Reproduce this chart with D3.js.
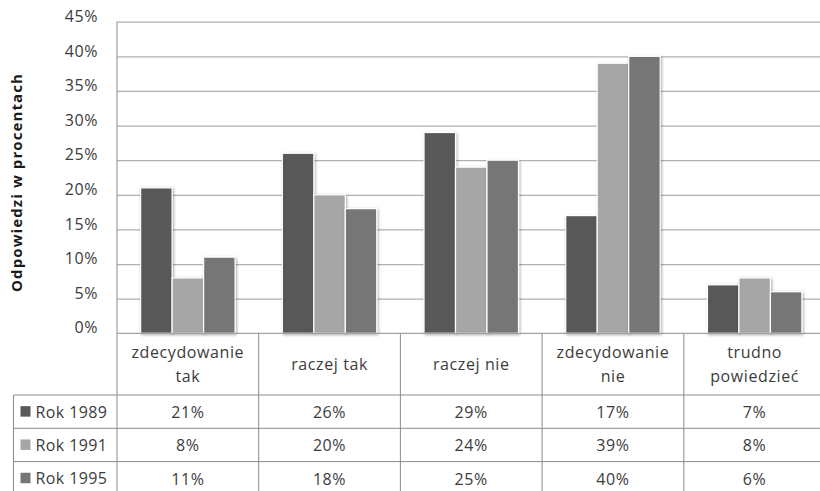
<!DOCTYPE html>
<html>
<head>
<meta charset="utf-8">
<script src="https://cdn.jsdelivr.net/npm/d3@7"></script>
<style>
  html, body { margin: 0; padding: 0; background: #fff; }
  svg { display: block; font-family: "Open Sans", "Noto Sans", sans-serif; }
</style>
</head>
<body>
<svg id="chart" width="820" height="491"></svg>
<script>
// Survey answers, share of respondents (%)
const categories = [["zdecydowanie", "tak"], ["raczej tak"], ["raczej nie"], ["zdecydowanie", "nie"], ["trudno", "powiedzieć"]];
const seriesNames = ["Rok 1989", "Rok 1991", "Rok 1995"];
const rok1989 = [21, 26, 29, 17, 7];
const rok1991 = [8, 20, 24, 39, 8];
const rok1995 = [11, 18, 25, 40, 6];
const yTicks = [0, 5, 10, 15, 20, 25, 30, 35, 40, 45];
const seriesColors = ["#595959", "#a6a6a6", "#767676"];

const series = [rok1989, rok1991, rok1995];

const svg = d3.select("#chart");

const plot = { left: 117, right: 825.5, top: 21.7, bottom: 333.3 };
const tableLeft = 13.5;
const headerBottom = 395;
const rowH = 33.3;
const fontSize = 16;
const spacing = 0.6;
const textColor = "#3c3c3c";

const x = d3.scaleBand()
  .domain(d3.range(categories.length))
  .range([plot.left, plot.right])
  .paddingInner(0).paddingOuter(0);

const barW = x.bandwidth() / 4.5; // gap width 150%
const xInner = d3.scaleBand()
  .domain(d3.range(series.length))
  .range([0, barW * 3]);

const y = d3.scaleLinear().domain([0, 45]).range([plot.bottom, plot.top]);

// drop shadow for bars
const defs = svg.append("defs");
const f = defs.append("filter").attr("id", "shadow")
  .attr("x", "-20%").attr("y", "-20%").attr("width", "140%").attr("height", "140%");
f.append("feGaussianBlur").attr("in", "SourceAlpha").attr("stdDeviation", 1.4).attr("result", "b");
f.append("feOffset").attr("in", "b").attr("dx", 0.5).attr("dy", 0.5).attr("result", "o");
f.append("feComponentTransfer").attr("in", "o").attr("result", "s")
  .append("feFuncA").attr("type", "linear").attr("slope", 0.35);
const m = f.append("feMerge");
m.append("feMergeNode").attr("in", "s");
m.append("feMergeNode").attr("in", "SourceGraphic");

// gridlines
svg.append("g")
  .attr("transform", `translate(${plot.left},0)`)
  .call(d3.axisLeft(y).tickValues(yTicks.filter(t => t > 0)).tickSize(-(plot.right - plot.left)).tickFormat(""))
  .call(g => g.select(".domain").remove())
  .call(g => g.selectAll("line").attr("stroke", "#b0b0b0").attr("stroke-width", 1.3));

// y axis labels
svg.append("g")
  .attr("transform", `translate(${plot.left},0)`)
  .call(d3.axisLeft(y).tickValues(yTicks).tickSize(0).tickPadding(19).tickFormat(d => d + "%"))
  .call(g => g.select(".domain").remove())
  .call(g => g.selectAll("text")
    .attr("font-family", "Open Sans, sans-serif")
    .attr("letter-spacing", spacing)
    .attr("font-size", fontSize).attr("fill", textColor).attr("dy", "-0.02em"));

// bars
const groups = svg.append("g").selectAll("g")
  .data(series)
  .join("g")
  .attr("fill", (d, i) => seriesColors[i]);

groups.selectAll("rect")
  .data((vals, si) => vals.map((v, ci) => ({ v, ci, si })))
  .join("rect")
  .attr("x", d => x(d.ci) + (x.bandwidth() - barW * 3) / 2 + xInner(d.si))
  .attr("y", d => y(d.v))
  .attr("width", xInner.bandwidth())
  .attr("height", d => y(0) - y(d.v))
  .attr("stroke", "#fff")
  .attr("stroke-width", 1.2)
  .attr("filter", "url(#shadow)");

// axis lines and data table grid
const lines = svg.append("g").attr("stroke", "#8c8c8c").attr("stroke-width", 1);
const tableBottom = headerBottom + rowH * 3 + 5;
lines.append("line").attr("x1", plot.left).attr("x2", plot.left).attr("y1", plot.top).attr("y2", tableBottom);
lines.append("line").attr("x1", plot.left).attr("x2", plot.right).attr("y1", plot.bottom).attr("y2", plot.bottom);
x.domain().forEach(i => {
  if (i > 0) lines.append("line").attr("x1", x(i)).attr("x2", x(i)).attr("y1", plot.bottom).attr("y2", tableBottom);
});
lines.append("line").attr("x1", tableLeft).attr("x2", tableLeft).attr("y1", headerBottom).attr("y2", tableBottom);
[0, 1, 2].forEach(r => {
  lines.append("line").attr("x1", tableLeft).attr("x2", plot.right)
    .attr("y1", headerBottom + r * rowH).attr("y2", headerBottom + r * rowH);
});

// category labels in header row
const txt = svg.append("g").attr("font-size", fontSize).attr("letter-spacing", spacing)
  .attr("fill", textColor).attr("text-anchor", "middle");
categories.forEach((lab, i) => {
  const cx = x(i) + x.bandwidth() / 2;
  const lh = 24;
  const mid = (plot.bottom + headerBottom) / 2 + 6;
  lab.forEach((line, k) => {
    txt.append("text").attr("x", cx)
      .attr("y", mid + (k - (lab.length - 1) / 2) * lh)
      .text(line);
  });
});

// series rows: legend key, name and values
series.forEach((vals, si) => {
  const cy = headerBottom + si * rowH + rowH / 2;
  svg.append("rect").attr("x", 20.5).attr("y", cy - 5.5).attr("width", 10).attr("height", 10.5)
    .attr("fill", seriesColors[si]);
  svg.append("text").attr("x", 35.5).attr("y", cy + 6)
    .attr("font-size", fontSize).attr("letter-spacing", spacing - 0.2)
    .attr("fill", textColor).text(seriesNames[si]);
  vals.forEach((v, ci) => {
    txt.append("text").attr("x", x(ci) + x.bandwidth() / 2).attr("y", cy + 6.5).text(v + "%");
  });
});

// y axis title
svg.append("text")
  .attr("transform", `translate(22,${(plot.top + plot.bottom) / 2 + 5}) rotate(-90)`)
  .attr("text-anchor", "middle")
  .attr("font-size", 15).attr("font-weight", "bold").attr("letter-spacing", 1.1)
  .attr("fill", "#1a1a1a")
  .text("Odpowiedzi w procentach");
</script>
</body>
</html>
